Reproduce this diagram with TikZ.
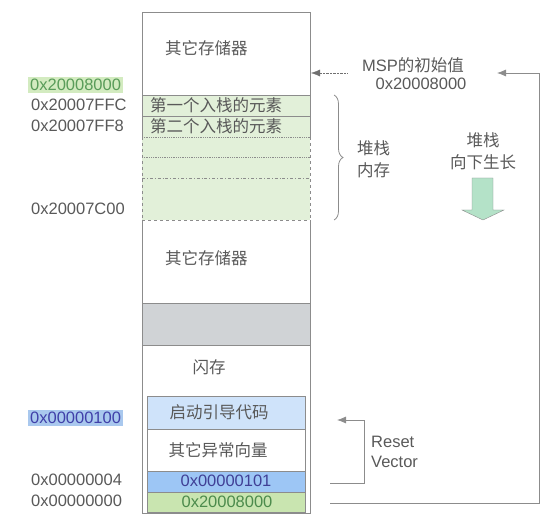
\documentclass[tikz,border=0pt]{standalone}
\usepackage{fontspec}
\setmainfont{Liberation Sans}
\newfontfamily\cjk{Noto Sans CJK SC}
\usetikzlibrary{arrows.meta,decorations.pathreplacing}
\definecolor{txtgray}{HTML}{595959}
\definecolor{linegray}{HTML}{8C8C8C}
\definecolor{stackgreen}{HTML}{E2F0D9}
\definecolor{bootblue}{HTML}{CFE3FA}
\definecolor{vecblue}{HTML}{9DC6F5}
\definecolor{mspgreen}{HTML}{C9E5B0}
\definecolor{hlgreen}{HTML}{D3EBC0}
\definecolor{hlblue}{HTML}{A9C8EE}
\definecolor{flashgray}{HTML}{D0D3D6}
\definecolor{growgreen}{HTML}{B4E2C8}
\tikzset{
  memline/.style={draw=linegray, line width=0.8pt},
  lbl/.style={text=txtgray, inner sep=1pt},
  addr/.style={lbl, anchor=west},
  tip/.style={-{Latex[length=9pt,width=7pt]}},
}
\begin{document}
\begin{tikzpicture}[x=1pt, y=-1pt, font=\fontsize{16.5}{22}\selectfont]
    \useasboundingbox (0,0) rectangle (555,532);
    % fills of the memory column
    \fill[stackgreen] (142,95) rectangle (310,220);
    \fill[flashgray] (142,303) rectangle (310,345);
    % outer column, dashed beside the free stack
    \draw[memline] (142,137) -- (142,12) -- (310,12) -- (310,137);
    \draw[memline, dashed] (142,137) -- (142,220) (310,137) -- (310,220);
    \draw[memline] (142,220) -- (142,513) -- (310,513) -- (310,220);
    \draw[memline] (142,95) -- (310,95);
    \draw[memline] (142,116) -- (310,116);
    \draw[memline, densely dotted] (142,137) -- (310,137);
    \draw[memline, densely dotted] (142,157) -- (310,157);
    \draw[memline, dash dot] (142,178) -- (310,178);
    \draw[memline, dashed] (142,220) -- (310,220);
    \draw[memline] (142,303) -- (310,303);
    \draw[memline] (142,345) -- (310,345);
    % flash contents
    \draw[memline, fill=bootblue] (147,396) rectangle (305,429);
    \draw[memline, fill=white] (147,429) rectangle (305,471);
    \draw[memline, fill=vecblue] (147,471) rectangle (305,492);
    \draw[memline, fill=mspgreen] (147,492) rectangle (305,512);
    % texts in the column
    \node[addr] (sram) at (164,48) {\cjk 其它存储器};
    \node[addr] (first) at (149,105) {\cjk 第一个入栈的元素};
    \node[addr] (second) at (149,126) {\cjk 第二个入栈的元素};
    \node[addr] (other) at (164,258) {\cjk 其它存储器};
    \node[lbl] (flash) at (209,367) {\cjk 闪存};
    \node[lbl] (boot) at (219,412) {\cjk 启动引导代码};
    \node[lbl] (vectors) at (218,450) {\cjk 其它异常向量};
    \node[lbl, text=blue!45!black!75] (resetval) at (226,481) {0x00000101};
    \node[lbl, text=green!35!black!70] (mspval) at (227,502) {0x20008000};
    % addresses
    \node[addr, fill=hlgreen, text=green!40!black!65, inner sep=2pt] (a8000) at (28,85) {0x20008000};
    \node[addr] (a7ffc) at (30,105) {0x20007FFC};
    \node[addr] (a7ff8) at (30,126) {0x20007FF8};
    \node[addr] (a7c00) at (30,209) {0x20007C00};
    \node[addr, fill=hlblue, text=blue!55!black!75, inner sep=2pt] (a0100) at (28,418) {0x00000100};
    \node[addr] (a0004) at (30,480) {0x00000004};
    \node[addr] (a0000) at (30,501) {0x00000000};
    % initial MSP
    \node[lbl] (msp) at (413,65) {MSP\cjk 的初始值};
    \node[lbl] (mspaddr) at (421,84) {0x20008000};
    \coordinate (mspfrom) at (347,73);
    \coordinate (mspto) at (311,73);
    \draw[linegray!80!black, densely dotted, tip] (mspfrom) -- (mspto);
    \coordinate (fromvec) at (330,503);
    \coordinate (tomsp) at (497,73);
    \draw[memline, tip] (fromvec) -- (539,503) -- (539,73) -- (tomsp);
    % stack
    \draw[memline, decorate, decoration={brace, amplitude=9pt}] (334,95) -- (334,220);
    \node[lbl, anchor=west, align=left] (stack) at (356,159) {\cjk 堆栈\\\cjk 内存};
    \node[lbl, align=center] (grow) at (483,151) {\cjk 堆栈\\\cjk 向下生长};
    \draw[linegray, fill=growgreen] (472,178) -- (493,178) -- (493,210) -- (504,210)
        -- (483,220) -- (462,210) -- (472,210) -- cycle;
    % reset vector
    \coordinate (rvfrom) at (330,483);
    \coordinate (rvto) at (337,420);
    \draw[memline, tip] (rvfrom) -- (364,483) -- (364,420) -- (rvto);
    \node[lbl, anchor=west, align=left, font=\fontsize{16.5}{20}\selectfont] (reset) at (370,452) {Reset\\Vector};
\end{tikzpicture}
\end{document}
